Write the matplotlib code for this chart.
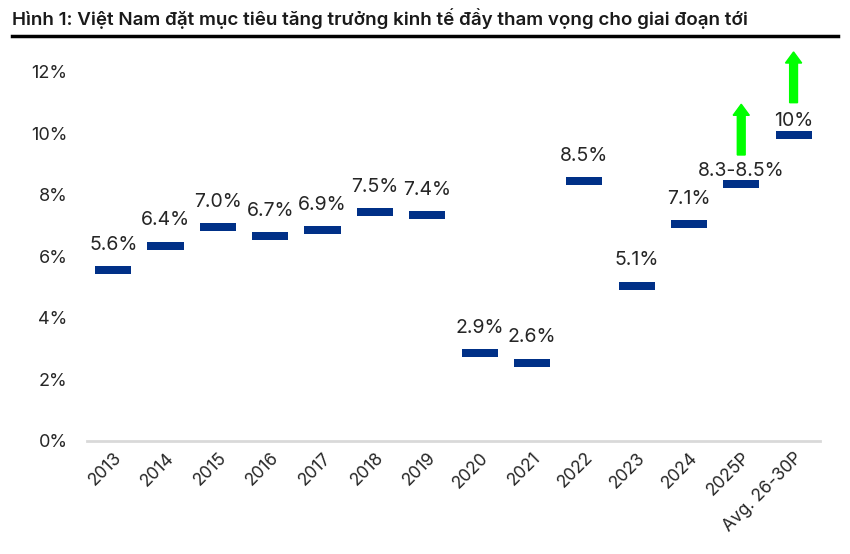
import numpy as np
import matplotlib.pyplot as plt
from matplotlib.patches import FancyArrow

# Dữ liệu tăng trưởng GDP
categories = ['2013', '2014', '2015', '2016', '2017', '2018', '2019',
              '2020', '2021', '2022', '2023', '2024', '2025P', 'Avg. 26-30P']
growth = [5.6, 6.4, 7.0, 6.7, 6.9, 7.5, 7.4, 2.9, 2.6, 8.5, 5.1, 7.1, 8.4, 10.0]
labels = ['5.6%', '6.4%', '7.0%', '6.7%', '6.9%', '7.5%', '7.4%',
          '2.9%', '2.6%', '8.5%', '5.1%', '7.1%', '8.3-8.5%', '10%']
# mũi tên xanh (danh mục, từ, đến)
arrows = [(12, 9.3, 10.95), (13, 11.0, 12.65)]

plt.rcParams['font.family'] = ['Inter', 'DejaVu Sans']

fig = plt.figure(figsize=(8.5, 5.54), dpi=100)
ax = fig.add_axes([0.1024, 0.204, 0.862, 0.705])

x = np.arange(len(categories))
thick = 0.26
ax.bar(x, thick, bottom=np.array(growth) - 0.18, width=0.69,
       color='#003087', zorder=3)

for i, (xi, v, t) in enumerate(zip(x, growth, labels)):
    off = 0.1 if i >= 12 else 0.48  # nhãn dự báo nằm sát thanh, dưới mũi tên
    ax.text(xi, v + off, t, ha='center', va='bottom', fontsize=14,
            color='#262626', zorder=5)

for xi, y0, y1 in arrows:
    ax.add_patch(FancyArrow(xi, y0, 0, y1 - y0, width=0.15, head_width=0.31,
                            head_length=0.36, length_includes_head=True,
                            color='#00ff00', clip_on=False, zorder=4))

ax.set_xlim(-0.5, len(categories) - 0.5)
ax.set_ylim(0, 12.7)
ax.set_yticks(np.arange(0, 13, 2))
ax.set_yticklabels([f'{v}%' for v in range(0, 13, 2)])
ax.set_xticks(x)
ax.set_xticklabels(categories, rotation=45, ha='right', rotation_mode='anchor')
ax.tick_params(axis='both', length=0, labelsize=13, labelcolor='#262626')
ax.tick_params(axis='y', pad=14)
ax.tick_params(axis='x', labelsize=12.5, pad=6)

for s in ['top', 'right', 'left']:
    ax.spines[s].set_visible(False)
ax.spines['bottom'].set_color('#d9d9d9')
ax.spines['bottom'].set_linewidth(2)

fig.text(0.014, 0.967, 'Hình 1: Việt Nam đặt mục tiêu tăng trưởng kinh tế đầy tham vọng cho giai đoạn tới',
         ha='left', va='center', fontsize=13.5, fontweight='semibold', color='#1a1a1a')
fig.add_artist(plt.Line2D([0.014, 0.986], [0.935, 0.935], color='black', lw=2.5,
                          transform=fig.transFigure))

fig.savefig('out.png', dpi=100)
